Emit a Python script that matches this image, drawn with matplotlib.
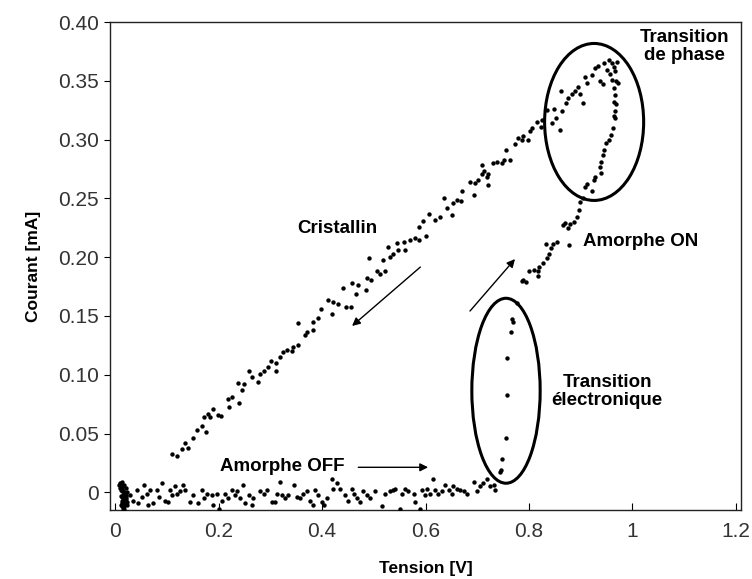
import matplotlib
matplotlib.use("Agg")
import matplotlib.pyplot as plt
from matplotlib.patches import Ellipse
from matplotlib.ticker import FixedLocator, FuncFormatter

plt.rcParams['font.family'] = ['Liberation Sans Narrow', 'Liberation Sans', 'DejaVu Sans']

# --- data (Tension [V], Courant [mA]) ---
# amorphous OFF state, near zero current (incl. the dense cluster at ~0 V)
off_x = [0.008, 0.010, 0.012, 0.014, 0.016, 0.018, 0.020, 0.011, 0.013, 0.015,
         0.017, 0.019, 0.021, 0.012, 0.014, 0.016, 0.018, 0.020, 0.013, 0.015,
         0.017, 0.019, 0.022, 0.014, 0.016, 0.018, 0.021, 0.015, 0.017, 0.019,
         0.010, 0.013, 0.016, 0.019, 0.022, 0.011, 0.014, 0.017, 0.020, 0.023,
         0.029, 0.035, 0.042, 0.045, 0.051, 0.055, 0.061, 0.067, 0.064, 0.074,
         0.080, 0.084, 0.090, 0.096, 0.103, 0.106, 0.109, 0.116, 0.119, 0.125,
         0.132, 0.135, 0.145, 0.151, 0.161, 0.167, 0.171, 0.177, 0.187, 0.190,
         0.196, 0.200, 0.206, 0.213, 0.219, 0.225, 0.232, 0.235, 0.242, 0.248,
         0.251, 0.258, 0.264, 0.267, 0.280, 0.287, 0.293, 0.303, 0.309, 0.312,
         0.319, 0.322, 0.329, 0.335, 0.345, 0.351, 0.358, 0.364, 0.370, 0.377,
         0.383, 0.387, 0.393, 0.400, 0.403, 0.409, 0.419, 0.422, 0.429, 0.435,
         0.445, 0.451, 0.458, 0.461, 0.467, 0.474, 0.480, 0.487, 0.493, 0.503,
         0.516, 0.522, 0.532, 0.538, 0.541, 0.551, 0.554, 0.561, 0.567, 0.577,
         0.580, 0.590, 0.593, 0.599, 0.603, 0.609, 0.615, 0.619, 0.625, 0.632,
         0.638, 0.645, 0.651, 0.654, 0.661, 0.667, 0.674, 0.680, 0.693, 0.699,
         0.706, 0.712, 0.719, 0.725, 0.732, 0.735]
off_y = [0.006, 0.008, 0.007, 0.009, 0.005, 0.006, 0.004, 0.002, 0.003, 0.001,
         0.000, -0.001, -0.002, -0.003, -0.004, -0.005, -0.003, -0.006, -0.007, -0.008,
         -0.009, -0.010, -0.011, -0.012, -0.013, -0.014, -0.010, -0.016, -0.018, -0.020,
         0.004, 0.001, -0.002, -0.006, -0.008, -0.011, -0.009, -0.012, -0.004, 0.000,
         -0.002, -0.007, 0.002, -0.009, -0.004, 0.006, -0.001, 0.002, -0.011, -0.009,
         0.002, -0.004, 0.008, -0.007, -0.008, 0.002, -0.002, 0.005, -0.001, 0.001,
         0.006, 0.002, -0.008, -0.002, -0.009, 0.002, -0.005, -0.001, -0.002, -0.011,
         -0.001, -0.014, -0.007, -0.001, -0.005, 0.002, -0.002, 0.001, -0.005, 0.006,
         -0.009, -0.002, -0.011, -0.005, 0.001, -0.001, 0.002, -0.008, -0.008, -0.001,
         0.009, -0.002, -0.005, -0.002, 0.006, -0.004, -0.005, -0.001, 0.001, -0.007,
         -0.011, 0.002, -0.002, -0.008, -0.011, -0.005, 0.011, 0.003, 0.008, 0.003,
         -0.002, -0.007, 0.003, -0.001, -0.005, -0.008, 0.001, -0.002, -0.005, 0.001,
         -0.012, -0.001, 0.001, 0.002, 0.003, -0.014, -0.001, 0.003, 0.001, -0.001,
         -0.008, -0.014, 0.002, -0.002, 0.003, -0.001, 0.011, 0.002, -0.001, 0.001,
         0.006, 0.002, -0.001, 0.005, 0.003, 0.002, 0.001, -0.001, 0.009, 0.001,
         0.005, 0.008, 0.011, 0.005, 0.006, 0.002]

# crystalline branch (up to the top of the phase transition)
cryst_x = [0.109, 0.120, 0.129, 0.135, 0.141, 0.151, 0.158, 0.167, 0.176, 0.172,
           0.180, 0.183, 0.189, 0.199, 0.204, 0.218, 0.220, 0.225, 0.240, 0.237,
           0.245, 0.249, 0.259, 0.264, 0.276, 0.280, 0.288, 0.296, 0.301, 0.310,
           0.311, 0.319, 0.325, 0.332, 0.341, 0.344, 0.354, 0.353, 0.367, 0.371,
           0.383, 0.382, 0.392, 0.397, 0.412, 0.419, 0.422, 0.430, 0.441, 0.446,
           0.455, 0.457, 0.466, 0.470, 0.485, 0.486, 0.490, 0.494, 0.506, 0.512,
           0.517, 0.522, 0.528, 0.532, 0.538, 0.544, 0.546, 0.559, 0.561, 0.570,
           0.580, 0.588, 0.588, 0.596, 0.601, 0.606, 0.619, 0.628, 0.636, 0.641,
           0.651, 0.653, 0.661, 0.668, 0.670, 0.686, 0.693, 0.696, 0.702, 0.709,
           0.709, 0.713, 0.718, 0.720, 0.720, 0.731, 0.738, 0.747, 0.751, 0.756,
           0.764, 0.773, 0.778, 0.786, 0.789, 0.799, 0.802, 0.805, 0.815, 0.823,
           0.825, 0.835, 0.844, 0.849, 0.853, 0.860, 0.862, 0.864, 0.872, 0.876,
           0.883, 0.889, 0.894, 0.899, 0.905, 0.909, 0.913, 0.922, 0.928, 0.934,
           0.937, 0.943, 0.945, 0.950, 0.954, 0.957, 0.960, 0.964, 0.967, 0.970]
cryst_y = [0.033, 0.031, 0.037, 0.042, 0.038, 0.046, 0.053, 0.056, 0.051, 0.064,
           0.067, 0.064, 0.071, 0.066, 0.065, 0.079, 0.073, 0.081, 0.076, 0.093,
           0.087, 0.092, 0.103, 0.098, 0.094, 0.101, 0.103, 0.107, 0.112, 0.103,
           0.110, 0.115, 0.119, 0.121, 0.120, 0.124, 0.125, 0.144, 0.134, 0.136,
           0.138, 0.145, 0.148, 0.156, 0.164, 0.152, 0.162, 0.160, 0.174, 0.158,
           0.158, 0.178, 0.169, 0.176, 0.172, 0.182, 0.199, 0.181, 0.188, 0.186,
           0.198, 0.188, 0.209, 0.200, 0.203, 0.212, 0.206, 0.213, 0.206, 0.215,
           0.216, 0.215, 0.226, 0.231, 0.218, 0.237, 0.232, 0.234, 0.250, 0.242,
           0.236, 0.246, 0.249, 0.248, 0.256, 0.264, 0.253, 0.263, 0.266, 0.271,
           0.278, 0.273, 0.268, 0.261, 0.271, 0.280, 0.281, 0.280, 0.283, 0.291,
           0.283, 0.296, 0.301, 0.300, 0.303, 0.300, 0.307, 0.310, 0.315, 0.311,
           0.317, 0.325, 0.314, 0.326, 0.318, 0.308, 0.341, 0.324, 0.331, 0.335,
           0.339, 0.341, 0.345, 0.339, 0.331, 0.353, 0.348, 0.355, 0.361, 0.363,
           0.350, 0.347, 0.365, 0.359, 0.368, 0.356, 0.365, 0.362, 0.358, 0.366]

# amorphous ON branch (coming down from the phase transition) + electronic transition
on_x = [0.960, 0.969, 0.973, 0.964, 0.967, 0.964, 0.969, 0.967, 0.964, 0.967,
        0.962, 0.958, 0.954, 0.949, 0.945, 0.943, 0.939, 0.937, 0.939, 0.928,
        0.925, 0.913, 0.909, 0.922, 0.905, 0.898, 0.896, 0.893, 0.887, 0.880,
        0.870, 0.865, 0.876, 0.854, 0.847, 0.843, 0.833, 0.877, 0.838, 0.835,
        0.827, 0.820, 0.817, 0.809, 0.801, 0.818, 0.789, 0.795, 0.786,
        0.777, 0.767, 0.769, 0.765, 0.758, 0.757, 0.756, 0.747, 0.746, 0.744]
on_y = [0.351, 0.350, 0.348, 0.344, 0.338, 0.332, 0.330, 0.324, 0.320, 0.318,
        0.310, 0.304, 0.300, 0.297, 0.291, 0.287, 0.281, 0.277, 0.272, 0.268,
        0.266, 0.262, 0.260, 0.256, 0.250, 0.247, 0.240, 0.234, 0.230, 0.228,
        0.229, 0.227, 0.225, 0.213, 0.211, 0.208, 0.211, 0.210, 0.203, 0.199,
        0.195, 0.192, 0.188, 0.189, 0.188, 0.184, 0.181, 0.179, 0.180,
        0.161, 0.147, 0.145, 0.136, 0.114, 0.083, 0.046, 0.028, 0.019, 0.017]

x_ticks = [0, 0.2, 0.4, 0.6, 0.8, 1.0, 1.2]
y_ticks = [0, 0.05, 0.10, 0.15, 0.20, 0.25, 0.30, 0.35, 0.40]

fig = plt.figure(figsize=(7.52, 5.79), dpi=100)
ax = fig.add_axes([0.1463, 0.1192, 0.8391, 0.8428])

for xs, ys in [(off_x, off_y), (cryst_x, cryst_y), (on_x, on_y)]:
    ax.scatter(xs, ys, s=10, color='black', linewidths=0, zorder=3)

ax.set_xlim(-0.01, 1.21)
ax.set_ylim(-0.015, 0.40)
ax.xaxis.set_major_locator(FixedLocator(x_ticks))
ax.yaxis.set_major_locator(FixedLocator(y_ticks))
ax.xaxis.set_major_formatter(FuncFormatter(lambda v, p: '0' if v == 0 else ('1' if v == 1 else f'{v:g}')))
ax.yaxis.set_major_formatter(FuncFormatter(lambda v, p: '0' if v == 0 else f'{v:.2f}'))
ax.tick_params(axis='x', direction='in', length=5, width=0.8, pad=9,
               labelsize=15, labelcolor='#333333')
ax.tick_params(axis='y', direction='out', length=4, width=0.8, pad=4,
               labelsize=15, labelcolor='#333333')
for sp in ax.spines.values():
    sp.set_linewidth(1.0)
    sp.set_color('#222222')

ax.set_xlabel('Tension [V]', fontsize=12.5, fontweight='bold', labelpad=14)
ax.set_ylabel('Courant [mA]', fontsize=12.5, fontweight='bold', labelpad=12)

# ellipses around the transitions
ax.add_patch(Ellipse((0.926, 0.315), 0.1915, 0.1335, fill=False, lw=2.2, color='black', zorder=4))
ax.add_patch(Ellipse((0.7556, 0.0864), 0.1321, 0.1573, fill=False, lw=2.2, color='black', zorder=4))

# labels
tfont = dict(family=['Liberation Sans', 'DejaVu Sans'], fontweight='bold', fontsize=13.5)
ax.text(1.100, 0.379, 'Transition\nde phase', ha='center', va='center', linespacing=1.05, **tfont)
ax.text(0.430, 0.2248, 'Cristallin', ha='center', va='center', **tfont)
ax.text(0.905, 0.2132, 'Amorphe ON', ha='left', va='center', **tfont)
ax.text(0.951, 0.0858, 'Transition\nélectronique', ha='center', va='center', linespacing=1.05, **tfont)
ax.text(0.3237, 0.0224, 'Amorphe OFF', ha='center', va='center', **tfont)

# arrows
arr = dict(arrowstyle='-|>', color='black', lw=1.0, mutation_scale=12, shrinkA=0, shrinkB=0)
ax.annotate('', xy=(0.605, 0.0213), xytext=(0.470, 0.0213), arrowprops=arr)
ax.annotate('', xy=(0.458, 0.1415), xytext=(0.590, 0.1916), arrowprops=arr)
ax.annotate('', xy=(0.773, 0.1984), xytext=(0.686, 0.1542), arrowprops=arr)

fig.savefig('out.png', dpi=100, facecolor='white')
